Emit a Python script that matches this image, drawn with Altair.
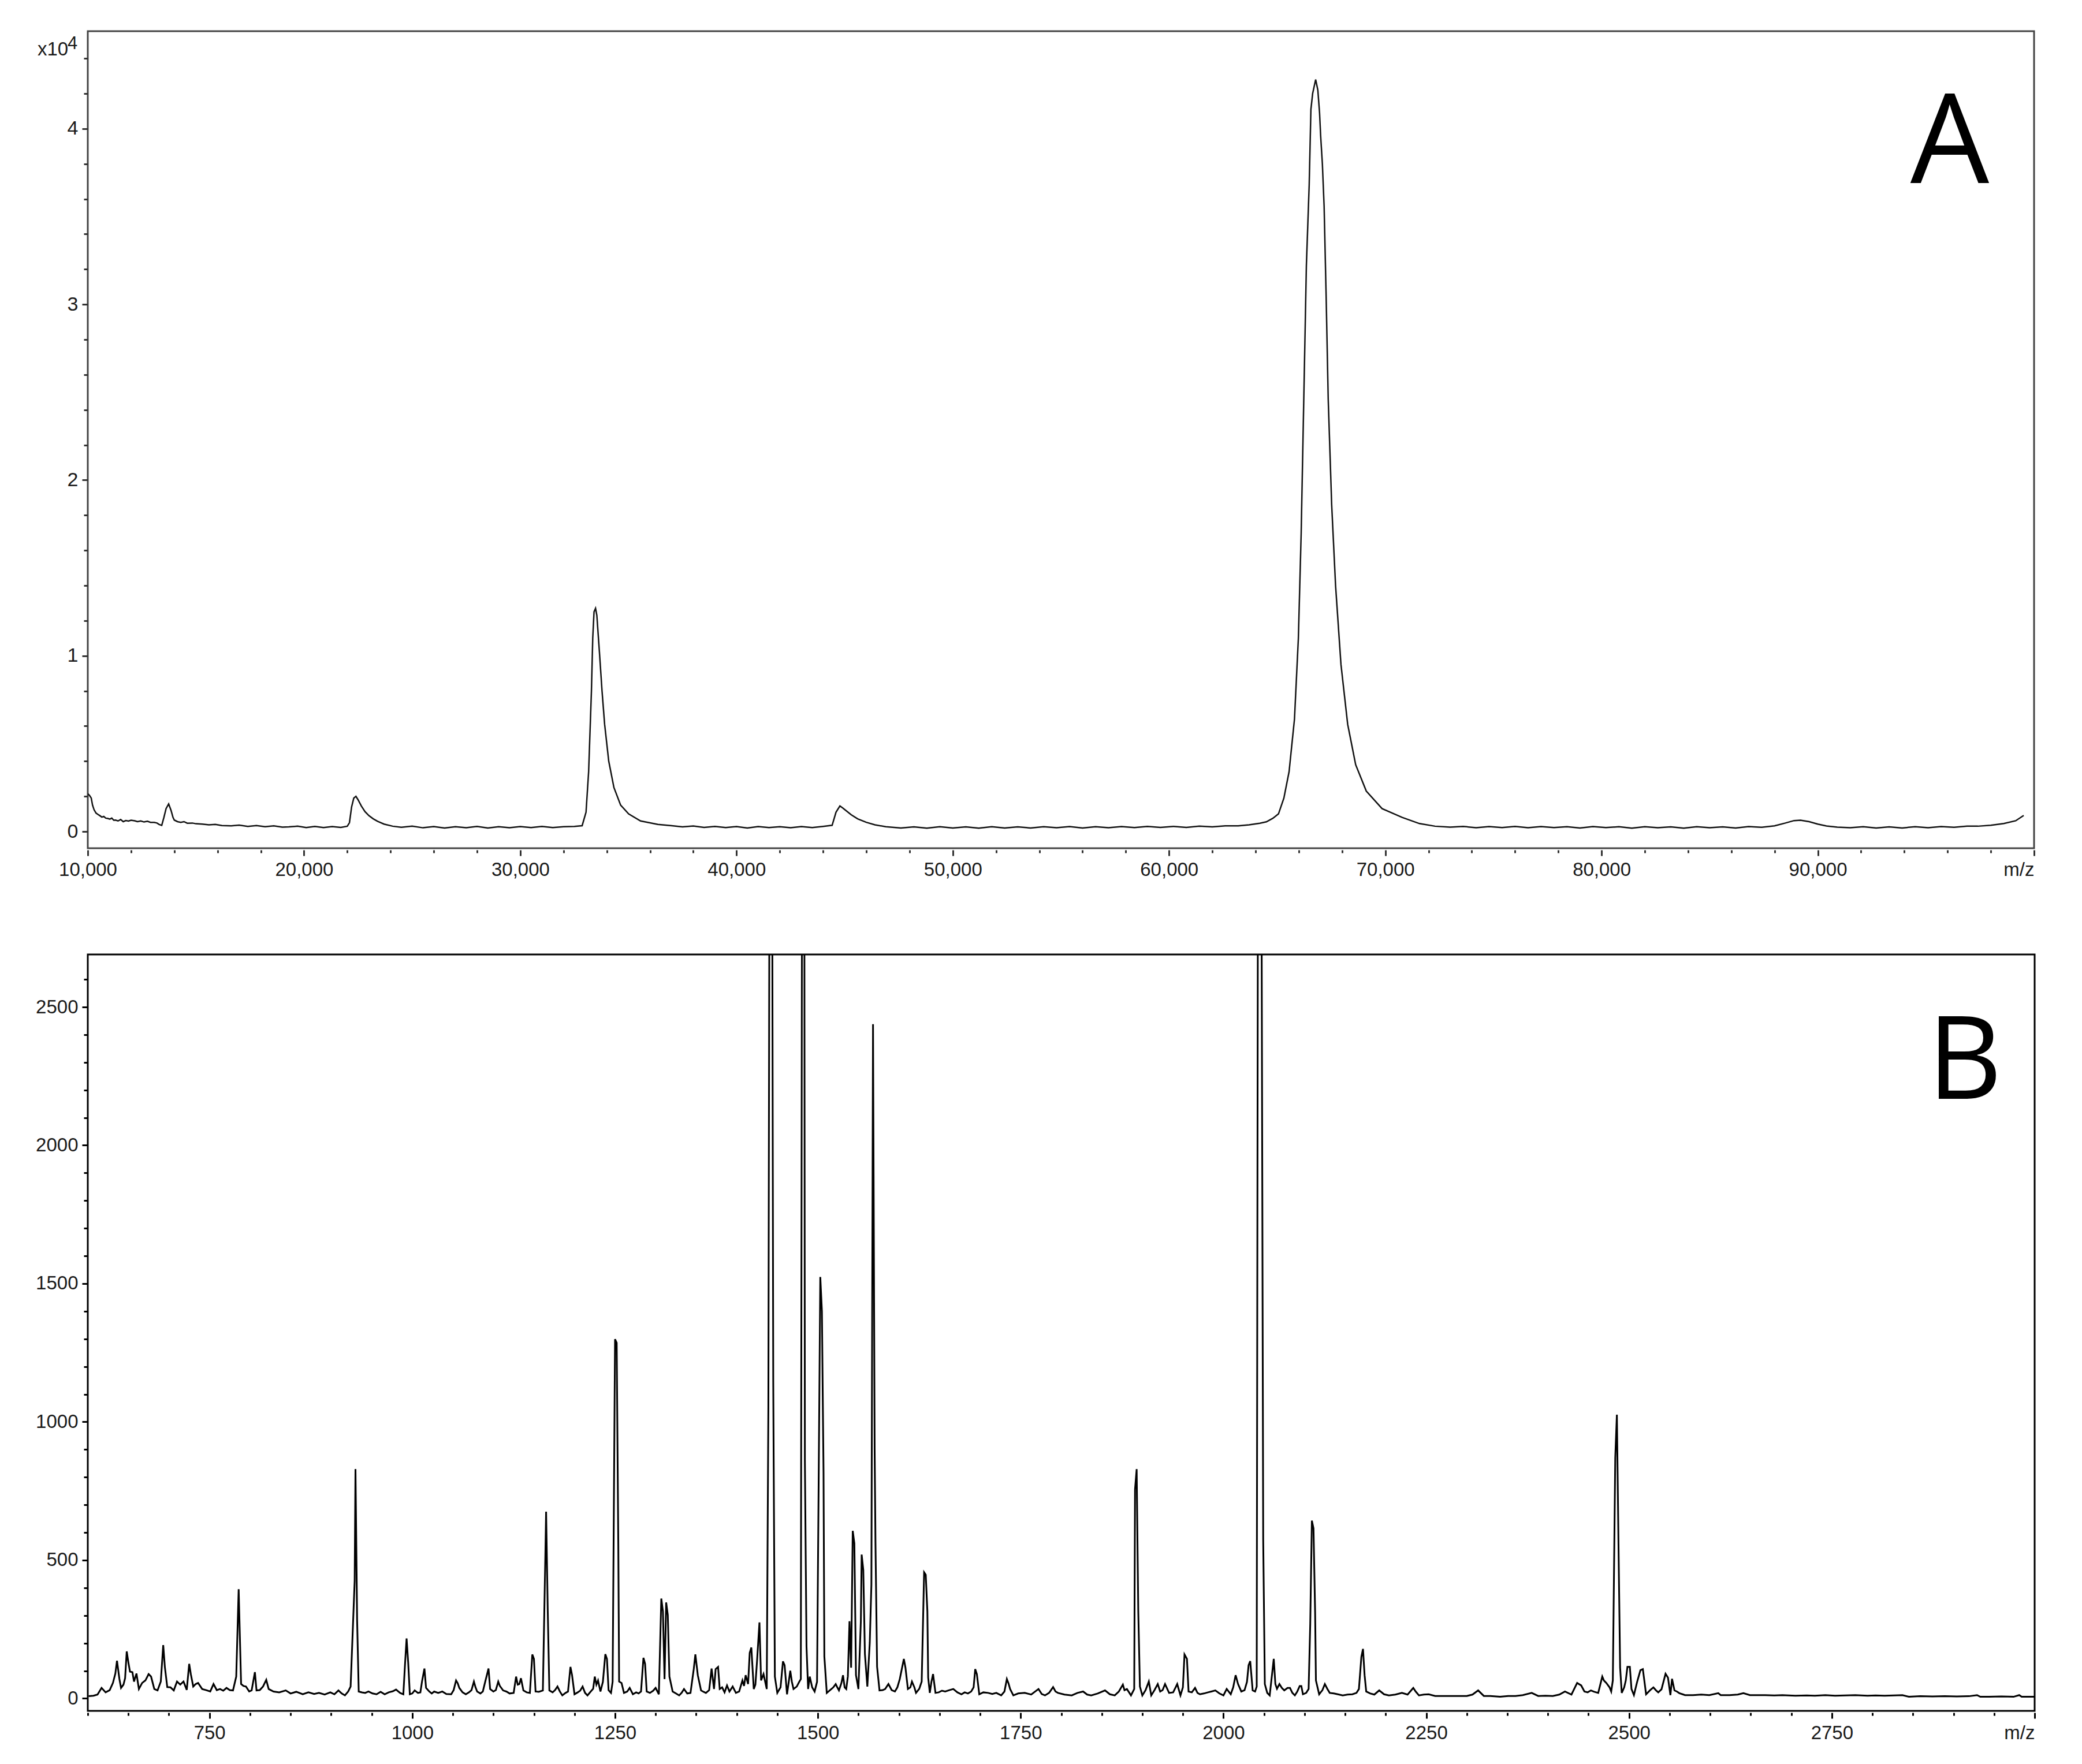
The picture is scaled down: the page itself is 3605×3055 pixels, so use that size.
import altair as alt
import pandas as pd

# ---------------- Panel A (m/z 10,000 - 100,000) ----------------
mz_a = [10000, 10080, 10160, 10220, 10290, 10380, 10460, 10560, 10650, 10740,
        10830, 10930, 11020, 11110, 11200, 11280, 11400, 11520, 11640, 11760,
        11880, 12000, 12170, 12300, 12450, 12600, 12760, 12900, 13070, 13200,
        13300, 13420, 13520, 13620, 13740, 13850, 13940, 14000, 14150, 14300,
        14450, 14600, 14840, 15000, 15300, 15600, 15900, 16200, 16630, 17000,
        17400, 17800, 18200, 18600, 19000, 19300, 19700, 20100, 20500, 20900,
        21300, 21700, 22000, 22100, 22200, 22300, 22400, 22500, 22650, 22820,
        23000, 23200, 23400, 23700, 24100, 24500, 25000, 25500, 26000, 26500,
        27000, 27500, 28000, 28500, 29000, 29500, 30000, 30500, 31000, 31500,
        32000, 32500, 32860, 33040, 33160, 33290, 33350, 33410, 33480, 33540,
        33660, 33780, 33900, 34090, 34330, 34640, 35010, 35560, 36360, 37000,
        37500, 38000, 38500, 39000, 39500, 40000, 40500, 41000, 41500, 42000,
        42500, 43000, 43500, 44000, 44420, 44600, 44780, 44900, 45100, 45300,
        45600, 46000, 46400, 46900, 47600, 48200, 48800, 49400, 50000, 50600,
        51200, 51800, 52400, 53000, 53600, 54200, 54800, 55400, 56000, 56600,
        57200, 57800, 58400, 59000, 59600, 60200, 60800, 61400, 62000, 62600,
        63200, 63700, 64200, 64500, 64800, 65060, 65310, 65550, 65800, 65980,
        66110, 66230, 66350, 66480, 66560, 66640, 66780, 66880, 66960, 67010,
        67090, 67170, 67260, 67360, 67520, 67700, 67950, 68260, 68630, 69120,
        69850, 70780, 71580, 72300, 73000, 73600, 74200, 74800, 75400, 76000,
        76600, 77200, 77800, 78400, 79000, 79600, 80200, 80800, 81400, 82000,
        82600, 83200, 83800, 84400, 85000, 85600, 86200, 86800, 87400, 88000,
        88500, 88900, 89200, 89600, 90000, 90400, 90900, 91500, 92100, 92700,
        93300, 93900, 94500, 95100, 95700, 96300, 96900, 97400, 98000, 98600,
        99150, 99520]
int_a = [2150, 2050, 1900, 1500, 1240, 1050, 980, 900, 820, 860,
         760, 740, 700, 760, 640, 650, 600, 680, 560, 620,
         590, 640, 610, 560, 600, 540, 580, 520, 520, 480,
         400, 350, 800, 1300, 1570, 1200, 800, 650, 560, 520,
         560, 470, 480, 440, 420, 380, 400, 340, 320, 360,
         290, 340, 270, 320, 250, 260, 300, 220, 290, 220,
         280, 230, 300, 500, 1400, 1900, 2000, 1800, 1450, 1130,
         900, 720, 580, 420, 300, 240, 300, 210, 280, 200,
         270, 210, 290, 200, 270, 210, 280, 220, 290, 220,
         270, 290, 330, 1100, 3400, 8000, 11000, 12500, 12700, 12300,
         10200, 8000, 6100, 4000, 2500, 1500, 1000, 600, 400, 330,
         260, 310, 230, 290, 220, 280, 200, 280, 220, 270,
         210, 280, 220, 290, 350, 1100, 1450, 1350, 1150, 950,
         720, 520, 380, 270, 200, 260, 190, 270, 200, 260,
         190, 270, 200, 260, 200, 270, 210, 280, 200, 270,
         210, 280, 220, 290, 230, 290, 230, 300, 260, 320,
         320, 380, 470, 550, 750, 1000, 1900, 3400, 6400, 11000,
         17000, 24600, 32200, 36800, 41100, 42000, 42800, 42200, 40900, 39600,
         38000, 35600, 30700, 24600, 18600, 14000, 9500, 6100, 3800, 2300,
         1300, 800, 450, 300, 250, 290, 210, 280, 220, 290,
         210, 280, 220, 270, 200, 280, 220, 270, 190, 270,
         210, 260, 190, 270, 210, 260, 200, 280, 240, 320,
         480, 620, 640, 560, 420, 310, 250, 210, 270, 200,
         260, 200, 270, 210, 280, 240, 300, 300, 350, 450,
         610, 910]

# ---------------- Panel B (m/z 600 - 3000) ----------------
mz_b = [601, 607, 612, 617, 622, 627, 631, 634, 636, 639, 641, 644, 646, 648, 650, 652,
        655, 657, 660, 663, 667, 671, 675, 678, 682, 686, 690, 693, 695, 698, 702,
        706, 710, 714, 718, 722, 725, 727, 730, 733, 736, 741, 746, 751, 755, 759,
        763, 767, 771, 775, 779, 783, 786, 787, 789, 792, 795, 799, 802, 806, 808,
        812, 816, 820, 823, 829, 836, 844, 850, 857, 865, 872, 879, 885, 892, 899,
        904, 909, 913, 917, 921, 924, 929, 930, 932, 934, 938, 942, 946, 951, 956,
        961, 966, 971, 976, 980, 985, 989, 991, 993, 995, 997, 1000, 1003, 1007, 1010,
        1012, 1015, 1017, 1021, 1024, 1027, 1032, 1037, 1042, 1048, 1051, 1054, 1056, 1058, 1062,
        1066, 1070, 1073, 1076, 1078, 1080, 1084, 1087, 1090, 1094, 1096, 1100, 1103, 1106, 1108,
        1112, 1116, 1120, 1125, 1128, 1130, 1132, 1134, 1137, 1141, 1145, 1148, 1150, 1152, 1156,
        1161, 1164, 1165, 1167, 1169, 1173, 1176, 1179, 1182, 1185, 1189, 1192, 1195, 1197, 1200,
        1204, 1207, 1210, 1213, 1216, 1220, 1223, 1225, 1227, 1229, 1232, 1235, 1238, 1240, 1242,
        1245, 1247, 1250, 1252, 1254, 1255, 1258, 1261, 1265, 1268, 1272, 1276, 1279, 1282, 1285,
        1287, 1289, 1293, 1297, 1300, 1304, 1307, 1309, 1311, 1313, 1315, 1317, 1321, 1325, 1329,
        1332, 1335, 1339, 1343, 1347, 1349, 1352, 1356, 1359, 1362, 1366, 1369, 1372, 1374, 1377,
        1379, 1382, 1385, 1388, 1391, 1395, 1399, 1403, 1407, 1409, 1411, 1414, 1416, 1418, 1421,
        1423, 1425, 1428, 1430, 1433, 1437, 1439, 1441, 1443, 1445, 1447, 1450, 1454, 1457, 1459,
        1462, 1466, 1468, 1470, 1474, 1477, 1479, 1481, 1483, 1484, 1486, 1488, 1490, 1493, 1496,
        1499, 1501, 1503, 1505, 1506, 1507, 1508, 1511, 1515, 1519, 1522, 1524, 1526, 1529, 1531,
        1533, 1535, 1537, 1539, 1541, 1543, 1545, 1547, 1550, 1553, 1554, 1556, 1558, 1561, 1564,
        1566, 1568, 1570, 1571, 1573, 1576, 1580, 1583, 1587, 1591, 1595, 1598, 1601, 1606, 1608,
        1611, 1614, 1616, 1619, 1621, 1625, 1628, 1631, 1633, 1635, 1636, 1638, 1640, 1642, 1645,
        1649, 1653, 1657, 1662, 1667, 1672, 1677, 1681, 1685, 1689, 1692, 1694, 1696, 1699, 1704,
        1710, 1715, 1720, 1726, 1730, 1733, 1735, 1737, 1741, 1747, 1755, 1763, 1772, 1776, 1780,
        1785, 1790, 1793, 1796, 1804, 1813, 1820, 1827, 1832, 1837, 1845, 1854, 1860, 1866, 1871,
        1876, 1878, 1881, 1886, 1890, 1891, 1893, 1895, 1897, 1900, 1904, 1908, 1911, 1915, 1919,
        1922, 1925, 1928, 1933, 1938, 1943, 1947, 1950, 1952, 1955, 1957, 1961, 1965, 1968, 1971,
        1976, 1981, 1985, 1990, 1995, 2000, 2004, 2009, 2012, 2015, 2018, 2022, 2026, 2029, 2031,
        2033, 2036, 2039, 2041, 2043, 2046, 2049, 2051, 2054, 2057, 2060, 2062, 2064, 2066, 2069,
        2072, 2075, 2079, 2082, 2085, 2088, 2091, 2094, 2096, 2098, 2102, 2105, 2107, 2109, 2111,
        2113, 2114, 2118, 2122, 2125, 2128, 2131, 2136, 2141, 2147, 2153, 2159, 2164, 2167, 2170,
        2172, 2174, 2176, 2181, 2186, 2192, 2198, 2204, 2212, 2220, 2227, 2234, 2237, 2241, 2247,
        2253, 2261, 2269, 2279, 2290, 2300, 2307, 2314, 2321, 2329, 2341, 2351, 2360, 2369, 2380,
        2388, 2397, 2406, 2414, 2421, 2429, 2436, 2441, 2445, 2449, 2453, 2457, 2462, 2467, 2469,
        2472, 2476, 2478, 2480, 2483, 2485, 2487, 2489, 2491, 2494, 2496, 2498, 2501, 2503, 2506,
        2510, 2514, 2517, 2519, 2521, 2526, 2530, 2533, 2536, 2540, 2545, 2548, 2551, 2553, 2556,
        2559, 2562, 2566, 2569, 2579, 2589, 2599, 2610, 2613, 2624, 2634, 2641, 2649, 2659, 2668,
        2679, 2689, 2705, 2719, 2729, 2742, 2754, 2766, 2779, 2794, 2804, 2815, 2826, 2837, 2845,
        2859, 2874, 2889, 2904, 2919, 2929, 2933, 2944, 2959, 2974, 2981, 2984, 3000]
int_b = [8, 10, 14, 38, 22, 30, 56, 90, 136, 70, 38, 50, 73, 170, 131, 97,
         95, 61, 90, 34, 56, 65, 88, 79, 34, 29, 61, 193, 114, 41, 40,
         29, 61, 50, 61, 31, 125, 88, 43, 52, 56, 34, 30, 25, 52, 30,
         34, 28, 38, 30, 29, 79, 395, 279, 52, 45, 43, 25, 29, 95, 29,
         30, 43, 67, 34, 25, 22, 29, 18, 24, 15, 22, 16, 20, 14, 22,
         15, 29, 18, 11, 25, 43, 425, 829, 286, 25, 22, 20, 25, 18, 15,
         24, 15, 22, 26, 32, 20, 15, 120, 217, 129, 15, 18, 29, 20, 22,
         61, 108, 38, 25, 18, 25, 20, 25, 16, 15, 30, 65, 55, 38, 22,
         15, 22, 30, 61, 40, 25, 18, 25, 61, 108, 34, 25, 30, 61, 45,
         29, 25, 18, 20, 79, 50, 52, 73, 29, 22, 20, 159, 143, 25, 24,
         29, 506, 675, 320, 29, 22, 30, 43, 25, 11, 20, 25, 114, 84, 15,
         22, 28, 43, 20, 11, 25, 35, 79, 50, 65, 25, 60, 160, 143, 30,
         20, 60, 1299, 1286, 556, 61, 56, 20, 25, 38, 15, 22, 18, 25, 147,
         125, 25, 20, 28, 38, 15, 361, 315, 70, 347, 302, 79, 25, 18, 11,
         20, 34, 18, 20, 106, 159, 84, 29, 24, 20, 30, 108, 34, 106, 114,
         34, 40, 22, 47, 25, 43, 20, 25, 65, 45, 84, 52, 165, 184, 34,
         50, 134, 275, 65, 88, 34, 1056, 4000, 4000, 1147, 79, 20, 40, 134, 120,
         15, 100, 60, 34, 43, 60, 70, 4000, 4000, 861, 188, 34, 79, 40, 25,
         60, 784, 1524, 1400, 1106, 815, 152, 20, 30, 40, 52, 40, 29, 55, 84,
         40, 34, 80, 279, 111, 606, 561, 84, 34, 279, 520, 465, 161, 43, 202,
         411, 2438, 900, 570, 115, 29, 30, 34, 52, 30, 25, 40, 70, 143, 111,
         34, 40, 61, 40, 20, 35, 61, 456, 447, 315, 75, 20, 60, 88, 20,
         22, 28, 25, 30, 34, 22, 15, 22, 18, 25, 40, 106, 88, 15, 22,
         20, 16, 20, 11, 25, 70, 55, 34, 11, 18, 20, 14, 34, 16, 11,
         20, 41, 25, 20, 14, 11, 20, 25, 14, 11, 18, 29, 15, 11, 25,
         50, 30, 34, 11, 34, 756, 829, 315, 43, 11, 30, 61, 11, 30, 52,
         25, 30, 52, 20, 22, 52, 11, 40, 159, 143, 25, 22, 38, 20, 15,
         18, 22, 25, 29, 18, 11, 34, 15, 40, 84, 52, 25, 30, 60, 120,
         135, 29, 25, 43, 4000, 4000, 574, 52, 20, 11, 90, 143, 52, 35, 52,
         38, 29, 38, 38, 20, 11, 25, 45, 45, 15, 20, 34, 270, 643, 615,
         311, 65, 15, 30, 52, 35, 20, 18, 15, 11, 14, 15, 20, 34, 150,
         179, 84, 25, 18, 14, 29, 15, 11, 14, 20, 14, 38, 25, 11, 14,
         15, 9, 9, 9, 9, 9, 14, 29, 9, 9, 6, 9, 9, 12, 20,
         9, 10, 9, 14, 25, 14, 56, 47, 25, 22, 29, 24, 20, 79, 65,
         56, 40, 25, 65, 870, 1026, 556, 111, 20, 40, 65, 114, 114, 34, 12,
         60, 102, 106, 61, 15, 30, 40, 30, 22, 33, 89, 75, 12, 71, 29,
         25, 19, 15, 12, 12, 14, 12, 19, 12, 12, 14, 19, 12, 12, 12,
         11, 12, 10, 11, 10, 12, 10, 11, 12, 10, 11, 10, 11, 12, 6,
         8, 7, 8, 7, 8, 12, 6, 6, 7, 6, 12, 6, 6]

panel_labels = ["A", "B"]
scale_text = ["x10", "4"]

a_x_ticks = list(range(10000, 100001, 2000))
a_y_ticks = list(range(0, 44001, 2000))
b_x_ticks = list(range(600, 3001, 50))
b_y_ticks = list(range(0, 2601, 100))

FONT = "Liberation Sans"
LAB = "#1a1a1a"

df_a = pd.DataFrame({"mz": mz_a, "intensity": int_a})
df_b = pd.DataFrame({"mz": mz_b, "intensity": int_b})

ax_a_x = alt.Axis(
    values=a_x_ticks, title=None, grid=False, domain=False, offset=3,
    labelExpr="datum.value === 100000 ? 'm/z' : (datum.value % 10000 === 0 ? format(datum.value, ',') : '')",
    labelAlign={"condition": {"test": "datum.value === 100000", "value": "right"}, "value": "center"},
    tickSize={"condition": {"test": "datum.value % 10000 === 0", "value": 10}, "value": 5},
    tickColor="#333", tickWidth=3, labelFont=FONT, labelFontSize=33, labelColor=LAB,
    labelPadding=8, labelFlush=False, labelOverlap=False,
)
ax_a_y = alt.Axis(
    values=a_y_ticks, title=None, grid=False, domain=False,
    labelExpr="datum.value % 10000 === 0 ? format(datum.value / 10000, 'd') : ''",
    tickSize={"condition": {"test": "datum.value % 10000 === 0", "value": 10}, "value": 7},
    tickColor="#333", tickWidth=3, labelFont=FONT, labelFontSize=34, labelColor=LAB,
    labelPadding=7, labelOverlap=False,
)
ax_b_x = alt.Axis(
    values=b_x_ticks, title=None, grid=False, domain=False, offset=3,
    labelExpr="datum.value === 3000 ? 'm/z' : (datum.value % 250 === 0 ? format(datum.value, 'd') : '')",
    labelAlign={"condition": {"test": "datum.value === 3000", "value": "right"}, "value": "center"},
    tickSize={"condition": {"test": "datum.value % 250 === 0", "value": 10}, "value": 5},
    tickColor="#000", tickWidth=3, labelFont=FONT, labelFontSize=33, labelColor=LAB,
    labelPadding=9, labelFlush=False, labelOverlap=False,
)
ax_b_y = alt.Axis(
    values=b_y_ticks, title=None, grid=False, domain=False,
    labelExpr="datum.value % 500 === 0 ? format(datum.value, 'd') : ''",
    tickSize={"condition": {"test": "datum.value % 500 === 0", "value": 10}, "value": 7},
    tickColor="#000", tickWidth=3, labelFont=FONT, labelFontSize=33, labelColor=LAB,
    labelPadding=7, labelOverlap=False,
)

line_a = alt.Chart(df_a).mark_line(color="#111", strokeWidth=2.5, clip=True).encode(
    x=alt.X("mz:Q", scale=alt.Scale(domain=[10000, 100000], nice=False, zero=False), axis=ax_a_x),
    y=alt.Y("intensity:Q", scale=alt.Scale(domain=[-953, 45550], nice=False, zero=False), axis=ax_a_y),
)
line_b = alt.Chart(df_b).mark_line(color="#000", strokeWidth=3, clip=True).encode(
    x=alt.X("mz:Q", scale=alt.Scale(domain=[600, 3000], nice=False, zero=False), axis=ax_b_x),
    y=alt.Y("intensity:Q", scale=alt.Scale(domain=[-45, 2690], nice=False, zero=False), axis=ax_b_y),
)

lab_df_a = pd.DataFrame({"t": [panel_labels[0]]})
lab_df_b = pd.DataFrame({"t": [panel_labels[1]]})
txt_a = alt.Chart(lab_df_a).mark_text(font="Open Sans", fontSize=216, align="center",
                                       baseline="alphabetic", color="#000").encode(
    text="t:N", x=alt.value(3224), y=alt.value(263))
txt_b = alt.Chart(lab_df_b).mark_text(font="Open Sans", fontSize=200, align="center",
                                       baseline="alphabetic", color="#000").encode(
    text="t:N", x=alt.value(3250), y=alt.value(250))

sc_df = pd.DataFrame({"base": [scale_text[0]], "sup": [scale_text[1]]})
sc_base = alt.Chart(sc_df).mark_text(font=FONT, fontSize=33, align="left",
                                      baseline="alphabetic", color=LAB).encode(
    text="base:N", x=alt.value(-87), y=alt.value(42))
sc_sup = alt.Chart(sc_df).mark_text(font=FONT, fontSize=31, align="left",
                                     baseline="alphabetic", color=LAB).encode(
    text="sup:N", x=alt.value(-35), y=alt.value(31))

chart_a = alt.layer(line_a, txt_a, sc_base, sc_sup).properties(
    width=3370, height=1415,
    view=alt.ViewBackground(stroke="#444", strokeWidth=3, fill="white"),
)
chart_b = alt.layer(line_b, txt_b).properties(
    width=3371, height=1310,
    view=alt.ViewBackground(stroke="#000", strokeWidth=3, fill="white"),
)

chart = alt.vconcat(chart_a, chart_b, spacing=126).properties(
    padding={"left": 52, "top": 44, "right": 10, "bottom": 10},
    background="white",
)

chart.save("out.html", embed_options={"renderer": "svg", "actions": False})
